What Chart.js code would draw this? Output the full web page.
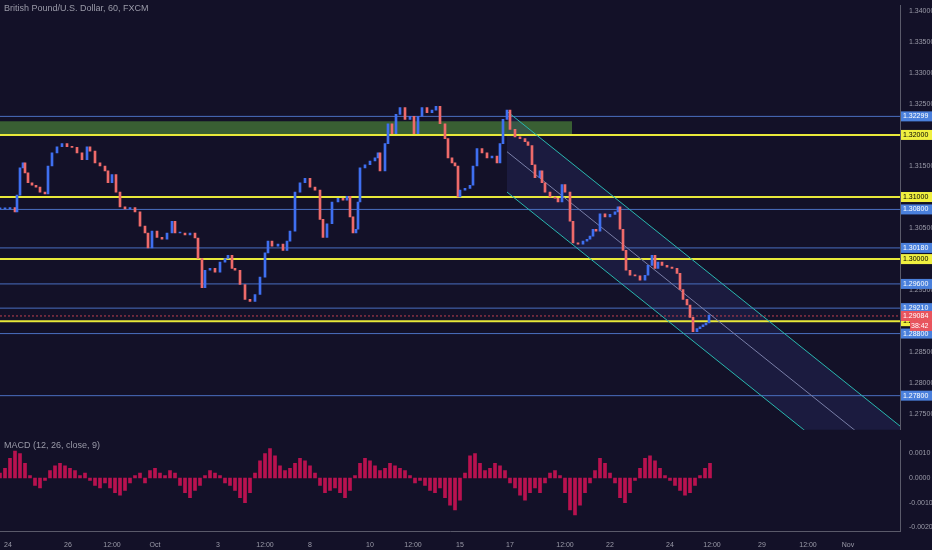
<!DOCTYPE html>
<html><head><meta charset="utf-8">
<script src="https://cdn.jsdelivr.net/npm/chart.js@4/dist/chart.umd.min.js"></script>
<style>
html,body{margin:0;padding:0;background:#131128;overflow:hidden}
#w1{position:absolute;left:0;top:0;width:932px;height:435px}
#w2{position:absolute;left:0;top:435px;width:932px;height:115px}
.t{position:absolute;color:#9a9aa8;font:9px "Liberation Sans",Arial,sans-serif}
</style></head><body>
<div id="w1"><canvas id="c1"></canvas></div>
<div id="w2"><canvas id="c2"></canvas></div>
<div class="t" style="left:4px;top:3px">British Pound/U.S. Dollar, 60, FXCM</div>
<div class="t" style="left:4px;top:440px">MACD (12, 26, close, 9)</div>
<script>
const barPos=[0,5,10,15,17,20,23,25,28,32,36,40,45,48,52,57,62,67,72,77,82,87,90,95,100,105,108,112,116,120,125,130,135,140,145,148,152,157,162,167,172,175,180,185,190,195,198,202,205,210,215,220,225,228,232,235,240,245,250,255,260,265,268,272,278,283,287,290,295,300,305,310,315,320,323,327,332,338,343,347,350,353,356,358,360,365,370,375,378,380,385,388,392,396,400,405,410,414,418,422,427,432,436,440,445,448,452,455,458,460,465,470,473,477,482,487,492,497,500,503,507,510,515,520,525,528,532,535,540,542,545,550,555,558,562,565,570,573,578,583,587,590,593,596,600,605,610,615,618,620,623,626,630,635,640,645,648,652,655,658,662,667,672,677,680,683,687,690,693,697,700,703,706,709];
const closes=[1.3081,1.3081,1.3083,1.3076,1.3103,1.3147,1.3155,1.3139,1.3123,1.3119,1.3116,1.3108,1.3105,1.3150,1.3171,1.3181,1.3186,1.3181,1.3180,1.3171,1.3160,1.3181,1.3174,1.3155,1.3150,1.3142,1.3123,1.3136,1.3108,1.3084,1.3081,1.3083,1.3076,1.3053,1.3042,1.3018,1.3045,1.3035,1.3032,1.3042,1.3061,1.3042,1.3042,1.3039,1.3042,1.3034,1.3001,1.2954,1.2982,1.2985,1.2979,1.2995,1.3001,1.3006,1.2985,1.2982,1.2959,1.2935,1.2932,1.2943,1.2971,1.3010,1.3029,1.3021,1.3024,1.3014,1.3029,1.3045,1.3108,1.3123,1.3130,1.3116,1.3111,1.3064,1.3035,1.3057,1.3092,1.3098,1.3095,1.3101,1.3068,1.3042,1.3048,1.3092,1.3147,1.3152,1.3158,1.3163,1.3171,1.3142,1.3186,1.3218,1.3202,1.3233,1.3244,1.3225,1.3230,1.3202,1.3230,1.3244,1.3236,1.3240,1.3246,1.3218,1.3194,1.3163,1.3155,1.3150,1.3100,1.3111,1.3114,1.3119,1.3150,1.3178,1.3171,1.3163,1.3166,1.3155,1.3186,1.3225,1.3240,1.3209,1.3197,1.3194,1.3189,1.3183,1.3152,1.3131,1.3142,1.3123,1.3108,1.3100,1.3098,1.3092,1.3120,1.3108,1.3061,1.3026,1.3024,1.3029,1.3032,1.3037,1.3048,1.3045,1.3073,1.3068,1.3072,1.3076,1.3084,1.3048,1.3014,1.2982,1.2974,1.2973,1.2966,1.2974,1.2990,1.3006,1.2985,1.2995,1.2990,1.2987,1.2985,1.2977,1.2951,1.2935,1.2926,1.2906,1.2883,1.2888,1.2891,1.2894,1.2897,1.2910];
const blueLevels=[1.32299,1.3080,1.3018,1.2960,1.2921,1.2880,1.2780];
const yellowLevels=[1.3200,1.3100,1.3000,1.2900];
const lastPrice=1.29084;
const zone=[0,572,1.3200,1.3222];
const chanX=[507,900];
const chanUpper=[1.3238,1.2731];
const chanMid=[1.3173,1.2666];
const chanLower=[1.3108,1.2601];
const macdPos=[];for(let i=0;i<=710;i+=5)macdPos.push(i);
const macdVals=[0.0002,0.0004,0.0008,0.0011,0.0010,0.0006,0.0001,-0.0003,-0.0004,-0.0001,0.0003,0.0005,0.0006,0.0005,0.0004,0.0003,0.0001,0.0002,-0.0001,-0.0003,-0.0004,-0.0002,-0.0004,-0.0006,-0.0007,-0.0005,-0.0002,0.0001,0.0002,-0.0002,0.0003,0.0004,0.0002,0.0001,0.0003,0.0002,-0.0003,-0.0006,-0.0008,-0.0005,-0.0003,0.0001,0.0003,0.0002,0.0001,-0.0002,-0.0003,-0.0005,-0.0008,-0.0010,-0.0006,0.0002,0.0007,0.0010,0.0012,0.0009,0.0005,0.0003,0.0004,0.0006,0.0008,0.0007,0.0005,0.0002,-0.0003,-0.0006,-0.0005,-0.0004,-0.0006,-0.0008,-0.0005,0.0001,0.0006,0.0008,0.0007,0.0005,0.0003,0.0004,0.0006,0.0005,0.0004,0.0003,0.0001,-0.0002,-0.0001,-0.0003,-0.0005,-0.0006,-0.0004,-0.0008,-0.0011,-0.0013,-0.0009,0.0002,0.0009,0.0010,0.0006,0.0003,0.0004,0.0006,0.0005,0.0003,-0.0002,-0.0004,-0.0007,-0.0009,-0.0006,-0.0004,-0.0006,-0.0002,0.0002,0.0003,0.0001,-0.0006,-0.0013,-0.0015,-0.0011,-0.0006,-0.0002,0.0003,0.0008,0.0006,0.0002,-0.0002,-0.0008,-0.0010,-0.0006,-0.0001,0.0004,0.0008,0.0009,0.0007,0.0004,0.0001,-0.0001,-0.0003,-0.0005,-0.0007,-0.0006,-0.0003,0.0001,0.0004,0.0006];
const xTickPos=[8,68,112,155,218,265,310,370,413,460,510,565,610,670,712,762,808,848];
const xTickLabels=['24','26','12:00','Oct','3','12:00','8','10','12:00','15','17','12:00','22','24','12:00','29','12:00','Nov'];

const candles=closes.map((c,i)=>({x:barPos[i],y:[i?closes[i-1]:c,c]}));
const FONT={family:'Liberation Sans',size:7};
const AX='#9a9aa8';
function fitR(s){s.width=32;}
const overlay={id:'ov',
 beforeDatasetsDraw(ch){const {ctx,chartArea:a,scales:{x,y}}=ch;ctx.save();
  ctx.beginPath();ctx.rect(a.left,a.top,a.right-a.left,a.bottom-a.top);ctx.clip();
  const X=v=>x.getPixelForValue(v),Y=v=>y.getPixelForValue(v);
  ctx.fillStyle='rgba(90,160,60,0.55)';
  ctx.fillRect(X(zone[0]),Y(zone[3]),X(zone[1])-X(zone[0]),Y(zone[2])-Y(zone[3]));
  ctx.fillStyle='rgba(50,60,130,0.25)';ctx.beginPath();
  ctx.moveTo(X(chanX[0]),Y(chanUpper[0]));ctx.lineTo(X(chanX[1]),Y(chanUpper[1]));
  ctx.lineTo(X(chanX[1]),Y(chanLower[1]));ctx.lineTo(X(chanX[0]),Y(chanLower[0]));ctx.closePath();ctx.fill();
  ctx.lineWidth=1;
  blueLevels.forEach(v=>{ctx.strokeStyle='#4a6fc0';ctx.beginPath();ctx.moveTo(a.left,Y(v));ctx.lineTo(a.right,Y(v));ctx.stroke();});
  ctx.lineWidth=2;
  yellowLevels.forEach(v=>{ctx.strokeStyle='#e8e83a';ctx.beginPath();ctx.moveTo(a.left,Y(v));ctx.lineTo(a.right,Y(v));ctx.stroke();});
  ctx.lineWidth=1;ctx.strokeStyle='#c04050';ctx.setLineDash([2,2]);ctx.beginPath();ctx.moveTo(a.left,Y(lastPrice));ctx.lineTo(a.right,Y(lastPrice));ctx.stroke();ctx.setLineDash([]);
  [[chanUpper,'#2ab8b0'],[chanLower,'#2ab8b0'],[chanMid,'#7a7fa8']].forEach(([l,c])=>{ctx.strokeStyle=c;ctx.beginPath();ctx.moveTo(X(chanX[0]),Y(l[0]));ctx.lineTo(X(chanX[1]),Y(l[1]));ctx.stroke();});
  ctx.restore();},
 afterDraw(ch){const {ctx,chartArea:a,scales:{y}}=ch;ctx.save();ctx.font='7px Liberation Sans';ctx.textBaseline='middle';
  const box=(v,bg,fg,txt)=>{const py=y.getPixelForValue(v);ctx.fillStyle=bg;ctx.fillRect(a.right+1,py-5,31,10);ctx.fillStyle=fg;ctx.fillText(txt,a.right+3,py);};
  blueLevels.forEach(v=>box(v,'#4a80dc','#fff',v.toFixed(5)));
  yellowLevels.forEach(v=>box(v,'#f0f040','#000',v.toFixed(5)));
  box(lastPrice,'#e8545e','#fff',lastPrice.toFixed(5));
  const py=y.getPixelForValue(lastPrice)+10;ctx.fillStyle='#e8545e';ctx.fillRect(a.right+10,py-5,22,10);ctx.fillStyle='#fff';ctx.fillText('38:42',a.right+11,py);
  ctx.restore();}};
new Chart(document.getElementById('c1'),{type:'bar',
 data:{datasets:[{data:candles,barThickness:2,
  backgroundColor:candles.map(d=>d.y[1]>=d.y[0]?'#3f6ff0':'#ee6a6a'),borderSkipped:false,minBarLength:1}]},
 options:{responsive:true,maintainAspectRatio:false,animation:false,layout:{padding:0},
  plugins:{legend:{display:false},tooltip:{enabled:false}},
  scales:{x:{type:'linear',offset:false,min:0,max:900,display:false},
   y:{position:'right',min:1.2725,max:1.3409,afterFit:fitR,
    afterBuildTicks(s){s.ticks=[];for(let v=1.275;v<=1.3401;v+=0.005)s.ticks.push({value:+v.toFixed(3)});},
    grid:{display:false},border:{color:'#5a5a6a'},
    ticks:{color:AX,font:FONT,padding:1,callback:v=>v.toFixed(5)}}}},plugins:[overlay]});
new Chart(document.getElementById('c2'),{type:'bar',
 data:{datasets:[{data:macdVals.map((v,i)=>({x:macdPos[i],y:v})),barThickness:3,backgroundColor:'#b8124f'}]},
 options:{responsive:true,maintainAspectRatio:false,animation:false,layout:{padding:0},
  plugins:{legend:{display:false},tooltip:{enabled:false}},
  scales:{x:{type:'linear',offset:false,min:0,max:900,grid:{display:false},border:{color:'#5a5a6a'},
    afterBuildTicks(s){s.ticks=xTickPos.map(v=>({value:v}));},
    ticks:{color:AX,font:FONT,maxRotation:0,autoSkip:false,padding:1,callback:(v)=>xTickLabels[xTickPos.indexOf(v)]}},
   y:{position:'right',min:-0.00218,max:0.00154,afterFit:fitR,
    afterBuildTicks(s){s.ticks=[0.001,0,-0.001,-0.002].map(v=>({value:v}));},
    grid:{display:false},border:{color:'#5a5a6a'},
    ticks:{color:AX,font:FONT,padding:1,callback:v=>v.toFixed(4)}}}}});
</script></body></html>
